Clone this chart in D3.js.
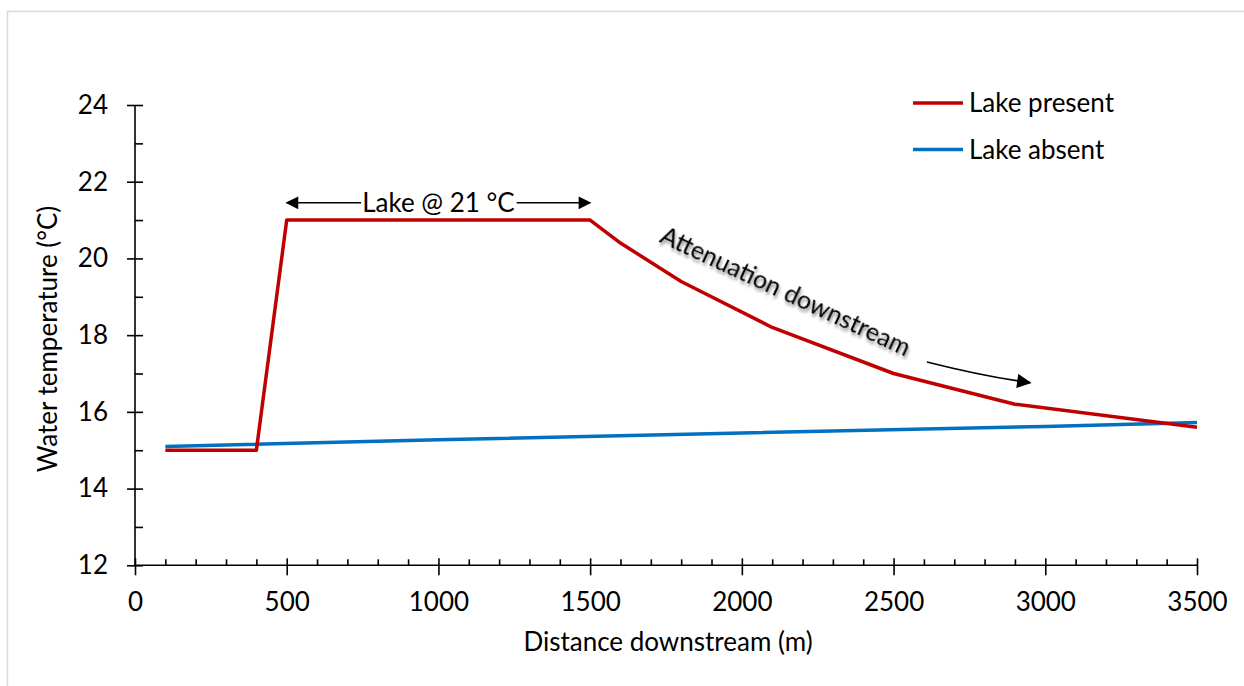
<!DOCTYPE html>
<html>
<head>
<meta charset="utf-8">
<script src="https://cdn.jsdelivr.net/npm/d3@7"></script>
<style>
  body { margin: 0; background: #fff; }
  svg { display: block; font-family: Lato, "Noto Sans", sans-serif; }
  .axis path, .axis line { stroke: #000; stroke-width: 1.6; }
  .axis text { font-size: 26px; fill: #000; font-family: Lato, "Noto Sans", sans-serif; }
</style>
</head>
<body>
<div id="chart"></div>
<script>
// distance downstream (m) and temperature (C)
const presentX = [100, 400, 500, 1500, 1600, 1800, 2100, 2500, 2900, 3500];
const presentY = [15, 15, 21, 21, 20.4, 19.4, 18.2, 17.0, 16.2, 15.6];
const absentX = [100, 1000, 2000, 3000, 3500];
const absentY = [15.1, 15.27, 15.45, 15.62, 15.72];

const seriesNames = ["Lake present", "Lake absent"];
const seriesColors = ["#c00000", "#0070c0"];

const xTicks = [0, 500, 1000, 1500, 2000, 2500, 3000, 3500];
const yTicks = [12, 14, 16, 18, 20, 22, 24];

const width = 1244, height = 686;
const margin = { top: 105, right: 47, bottom: 119, left: 135 };

const svg = d3.select("#chart").append("svg")
    .attr("width", width)
    .attr("height", height);

// light frame, only top and left edges visible
svg.append("path")
    .attr("d", `M7.5,${height} V11.5 H${width}`)
    .attr("fill", "none")
    .attr("stroke", "#d9d9d9")
    .attr("stroke-width", 1.5);

const x = d3.scaleLinear().domain([0, 3500]).range([margin.left, width - margin.right]);
const y = d3.scaleLinear().domain([12, 24]).range([height - margin.bottom - 1.7, margin.top]);

const defs = svg.append("defs");
defs.append("marker")
    .attr("id", "head")
    .attr("viewBox", "0 0 10 10")
    .attr("refX", 9).attr("refY", 5)
    .attr("markerWidth", 9).attr("markerHeight", 8)
    .attr("markerUnits", "strokeWidth")
    .attr("orient", "auto-start-reverse")
    .append("path")
    .attr("d", "M0,0 L10,5 L0,10 z")
    .attr("fill", "#000");

const shadow = defs.append("filter")
    .attr("id", "shadow")
    .attr("x", "-10%").attr("y", "-30%")
    .attr("width", "120%").attr("height", "160%");
shadow.append("feDropShadow")
    .attr("dx", 2).attr("dy", 2.5)
    .attr("stdDeviation", 1.6)
    .attr("flood-color", "#000")
    .attr("flood-opacity", 0.45);

// y axis: major ticks cross the line, minor ones sit inside
const yAxis = svg.append("g")
    .attr("class", "axis")
    .attr("transform", `translate(${x(0)},0)`)
    .call(d3.axisLeft(y).tickValues(yTicks).tickSize(8).tickPadding(19));
yAxis.selectAll(".tick line").attr("x1", 8);
yAxis.select(".domain").attr("d", `M0,${y(12)}V${y(24)}`);

svg.append("g")
    .attr("class", "axis")
    .attr("transform", `translate(${x(0)},0)`)
    .call(d3.axisRight(y).tickValues(d3.range(13, 24, 2)).tickSize(8).tickFormat(""))
    .call(g => g.select(".domain").remove());

const xAxis = svg.append("g")
    .attr("class", "axis")
    .attr("transform", `translate(0,${y(12)})`)
    .call(d3.axisBottom(x).tickValues(xTicks).tickSize(10).tickPadding(17).tickFormat(d3.format("d")));
xAxis.selectAll(".tick line").attr("y1", -7);
xAxis.select(".domain").attr("d", `M${x(0)},0H${x(3500)}`);

svg.append("g")
    .attr("class", "axis")
    .attr("transform", `translate(0,${y(12)})`)
    .call(d3.axisTop(x).tickValues(d3.range(100, 3500, 100).filter(v => v % 500 != 0)).tickSize(6).tickFormat(""))
    .call(g => g.select(".domain").remove());

// axis titles
svg.append("text")
    .attr("x", (x(0) + x(3500)) / 2 + 2)
    .attr("y", 651)
    .attr("text-anchor", "middle")
    .style("font-size", "26px")
    .text("Distance downstream (m)");

svg.append("text")
    .attr("transform", `translate(57,339) rotate(-90)`)
    .attr("text-anchor", "middle")
    .style("font-size", "26px")
    .text("Water temperature (°C)");

// lines
const line = d3.line().x(d => x(d[0])).y(d => y(d[1]));
const series = [
    d3.zip(absentX, absentY),
    d3.zip(presentX, presentY)
];
svg.selectAll(".series")
    .data(series)
    .enter()
    .append("path")
    .attr("class", "series")
    .attr("fill", "none")
    .attr("stroke", (d, i) => i == 0 ? seriesColors[1] : seriesColors[0])
    .attr("stroke-width", 3.5)
    .attr("stroke-linejoin", "round")
    .attr("d", line);

// legend
const legend = svg.selectAll(".legend")
    .data(seriesNames)
    .enter()
    .append("g")
    .attr("class", "legend")
    .attr("transform", (d, i) => `translate(913,${103 + i * 46.5})`);
legend.append("line")
    .attr("x1", 0).attr("x2", 50)
    .attr("stroke", (d, i) => seriesColors[i])
    .attr("stroke-width", 3.5);
legend.append("text")
    .attr("x", 56).attr("y", 9)
    .style("font-size", "26px")
    .text(d => d);

// "Lake @ 21 °C" span annotation
const spanY = 21.45;
svg.append("text")
    .attr("x", x(1000))
    .attr("y", y(spanY) + 9)
    .attr("text-anchor", "middle")
    .style("font-size", "26px")
    .text("Lake @ 21 °C");
svg.append("line")
    .attr("x1", x(745)).attr("x2", x(500))
    .attr("y1", y(spanY)).attr("y2", y(spanY))
    .attr("stroke", "#000").attr("stroke-width", 1.6)
    .attr("marker-end", "url(#head)");
svg.append("line")
    .attr("x1", x(1258)).attr("x2", x(1500))
    .attr("y1", y(spanY)).attr("y2", y(spanY))
    .attr("stroke", "#000").attr("stroke-width", 1.6)
    .attr("marker-end", "url(#head)");

// attenuation note
svg.append("text")
    .attr("transform", `translate(${x(2132)},${y(18.94)}) rotate(25)`)
    .attr("text-anchor", "middle")
    .attr("filter", "url(#shadow)")
    .style("font-size", "25px")
    .text("Attenuation downstream");

svg.append("path")
    .attr("d", `M${x(2610)},${y(17.3)} Q${x(2800)},${y(16.92)} ${x(2950)},${y(16.76)}`)
    .attr("fill", "none")
    .attr("stroke", "#000")
    .attr("stroke-width", 1.8)
    .attr("marker-end", "url(#head)");
</script>
</body>
</html>
